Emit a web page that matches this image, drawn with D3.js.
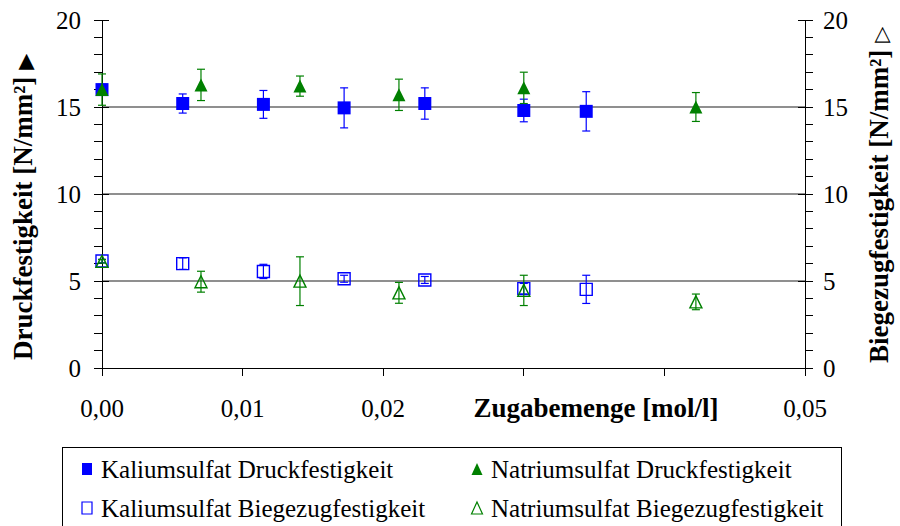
<!DOCTYPE html>
<html><head><meta charset="utf-8">
<script src="https://cdn.jsdelivr.net/npm/d3@7"></script>
<style>
body{margin:0;background:#fff}
svg{display:block}
text{font-family:"Liberation Serif","Times New Roman",serif;fill:#000}
</style>
</head><body>
<svg id="chart" width="900" height="526"></svg>
<script>
// Zugabemenge in mol/l
const kaliumX = [0, 0.00574, 0.01148, 0.01722, 0.02296, 0.030, 0.03444];
const natriumX = [0, 0.00704, 0.01408, 0.02112, 0.030, 0.04224];

// Druckfestigkeit [N/mm²] with standard deviation
const kaliumDruck = [16.0, 15.2, 15.15, 14.95, 15.2, 14.8, 14.75];
const kaliumDruckErr = [0.3, 0.55, 0.8, 1.15, 0.9, 0.65, 1.13];
const natriumDruck = [16.0, 16.27, 16.2, 15.7, 16.1, 15.0];
const natriumDruckErr = [0.9, 0.9, 0.58, 0.9, 0.9, 0.83];

// Biegezugfestigkeit [N/mm²] with standard deviation
const kaliumBiege = [6.15, 6.0, 5.55, 5.13, 5.06, 4.56, 4.52];
const kaliumBiegeErr = [0.1, 0.33, 0.41, 0.2, 0.2, 0.3, 0.81];
const natriumBiege = [6.13, 4.96, 4.99, 4.32, 4.46, 3.8];
const natriumBiegeErr = [0.1, 0.6, 1.4, 0.6, 0.87, 0.45];

const xTicks = [0, 0.01, 0.02, 0.03, 0.04, 0.05];
// labels under the axis title are left out
const xTickLabels = ["0,00", "0,01", "0,02", "", "", "0,05"];
const yTicks = [0, 5, 10, 15, 20];
const yMinorTicks = d3.range(0, 21, 1);
const gridValues = [5, 10, 15];

const seriesNames = [
  "Kaliumsulfat Druckfestigkeit", "Natriumsulfat Druckfestigkeit",
  "Kaliumsulfat Biegezugfestigkeit", "Natriumsulfat Biegezugfestigkeit"
];

const BLUE = "#0000ff", GREEN = "#008000";

const svg = d3.select("#chart");
const x = d3.scaleLinear().domain([0, 0.05]).range([102, 805]);
const yL = d3.scaleLinear().domain([0, 20]).range([368, 20]);
const yR = d3.scaleLinear().domain([0, 20]).range([368, 20]);

// gridlines
svg.append("g").selectAll("line").data(gridValues).join("line")
  .attr("x1", x(0)).attr("x2", x(0.05))
  .attr("y1", d => yL(d)).attr("y2", d => yL(d))
  .attr("stroke", "#6a6a6a").attr("stroke-width", 1.3);

// axes
const axisG = svg.append("g").attr("stroke", "#000").attr("stroke-width", 1).attr("shape-rendering", "crispEdges");
axisG.append("line").attr("x1", x(0)).attr("x2", x(0)).attr("y1", yL(20)).attr("y2", yL(0) + 8);
axisG.append("line").attr("x1", x(0.05)).attr("x2", x(0.05)).attr("y1", yR(20)).attr("y2", yR(0) + 8);
axisG.append("line").attr("x1", x(0)).attr("x2", x(0.05)).attr("y1", yL(0)).attr("y2", yL(0));
// y ticks: minor ones point outward, major ones cross the axis
axisG.selectAll(".lminor").data(yMinorTicks).join("line")
  .attr("x1", x(0) - 8).attr("x2", d => yTicks.includes(d) ? x(0) + 7 : x(0))
  .attr("y1", d => yL(d)).attr("y2", d => yL(d));
axisG.selectAll(".rminor").data(yMinorTicks).join("line")
  .attr("x1", d => yTicks.includes(d) ? x(0.05) - 7 : x(0.05)).attr("x2", x(0.05) + 8)
  .attr("y1", d => yR(d)).attr("y2", d => yR(d));
axisG.selectAll(".xt").data(xTicks).join("line")
  .attr("x1", d => x(d)).attr("x2", d => x(d))
  .attr("y1", yL(0)).attr("y2", yL(0) + 8);

// tick labels
svg.append("g").selectAll("text").data(yTicks).join("text")
  .attr("x", 81).attr("y", d => yL(d)).attr("dy", "0.34em")
  .attr("text-anchor", "end").attr("font-size", 25).text(d => d);
svg.append("g").selectAll("text").data(yTicks).join("text")
  .attr("x", 823).attr("y", d => yR(d)).attr("dy", "0.34em")
  .attr("text-anchor", "start").attr("font-size", 25).text(d => d);
svg.append("g").selectAll("text").data(xTicks.filter((d, i) => xTickLabels[i])).join("text")
  .attr("x", d => x(d)).attr("y", 417)
  .attr("text-anchor", "middle").attr("font-size", 25)
  .text(d => xTickLabels[xTicks.indexOf(d)]);

// x axis title
svg.append("text").attr("x", 596).attr("y", 417)
  .attr("text-anchor", "middle").attr("font-size", 27).attr("font-weight", "bold")
  .text("Zugabemenge [mol/l]");

// vertical titles, reading bottom to top
function vTitle(bx, by, label, mark) {
  const t = svg.append("text").attr("transform", `translate(${bx},${by}) rotate(-90)`)
    .attr("text-anchor", "start").attr("font-size", 27).attr("font-weight", "bold");
  t.append("tspan").text(label);
  t.append("tspan").attr("font-family", "DejaVu Sans").attr("font-weight", "normal")
    .attr("font-size", 21).attr("dx", 7).text(mark);
}
vTitle(32, 360, "Druckfestigkeit [N/mm²]", "\u25B6");
vTitle(888, 363, "Biegezugfestigkeit [N/mm²]", "\u25B7");

// marker shapes
function markerPath(shape, s) {
  if (shape === "square") return `M${-s/2},${-s/2}H${s/2}V${s/2}H${-s/2}Z`;
  return `M0,${-s/2}L${s/2},${s/2}L${-s/2},${s/2}Z`;
}

function drawSeries(xs, ys, errs, yScale, color, shape, filled) {
  const g = svg.append("g");
  const pts = xs.map((d, i) => ({ x: d, y: ys[i], e: errs[i] }));
  // error bars
  const eb = g.append("g").attr("stroke", color).attr("stroke-width", 1.2);
  eb.selectAll(".v").data(pts).join("line")
    .attr("x1", d => x(d.x)).attr("x2", d => x(d.x))
    .attr("y1", d => yScale(d.y + d.e)).attr("y2", d => yScale(d.y - d.e));
  eb.selectAll(".t").data(pts).join("line")
    .attr("x1", d => x(d.x) - 4).attr("x2", d => x(d.x) + 4)
    .attr("y1", d => yScale(d.y + d.e)).attr("y2", d => yScale(d.y + d.e));
  eb.selectAll(".b").data(pts).join("line")
    .attr("x1", d => x(d.x) - 4).attr("x2", d => x(d.x) + 4)
    .attr("y1", d => yScale(d.y - d.e)).attr("y2", d => yScale(d.y - d.e));
  const size = filled ? 13 : 12;
  g.selectAll("path").data(pts).join("path")
    .attr("transform", d => `translate(${x(d.x)},${yScale(d.y)})`)
    .attr("d", markerPath(shape, size))
    .attr("fill", filled ? color : "none")
    .attr("stroke", color).attr("stroke-width", filled ? 0 : 1.4);
}

drawSeries(kaliumX, kaliumDruck, kaliumDruckErr, yL, BLUE, "square", true);
drawSeries(natriumX, natriumDruck, natriumDruckErr, yL, GREEN, "triangle", true);
drawSeries(kaliumX, kaliumBiege, kaliumBiegeErr, yR, BLUE, "square", false);
drawSeries(natriumX, natriumBiege, natriumBiegeErr, yR, GREEN, "triangle", false);

// legend
const legend = svg.append("g");
legend.append("rect").attr("x", 62.5).attr("y", 447.5).attr("width", 779).attr("height", 90)
  .attr("fill", "#fff").attr("stroke", "#000").attr("stroke-width", 1);
const legendItems = [
  { name: seriesNames[0], color: BLUE, shape: "square", filled: true, col: 0, row: 0 },
  { name: seriesNames[1], color: GREEN, shape: "triangle", filled: true, col: 1, row: 0 },
  { name: seriesNames[2], color: BLUE, shape: "square", filled: false, col: 0, row: 1 },
  { name: seriesNames[3], color: GREEN, shape: "triangle", filled: false, col: 1, row: 1 }
];
const li = legend.selectAll(".item").data(legendItems).join("g")
  .attr("transform", d => `translate(${d.col ? 477 : 87},${d.row ? 508 : 469})`);
li.append("path")
  .attr("d", d => d.shape === "square" ? "M-5,-6H5V6H-5Z" : "M0,-6L5.5,6L-5.5,6Z")
  .attr("fill", d => d.filled ? d.color : "#fff")
  .attr("stroke", d => d.color).attr("stroke-width", d => d.filled ? 0 : 1.2);
li.append("text").attr("x", 14).attr("y", 0).attr("dy", "0.34em")
  .attr("font-size", 25).text(d => d.name);
</script>
</body></html>
